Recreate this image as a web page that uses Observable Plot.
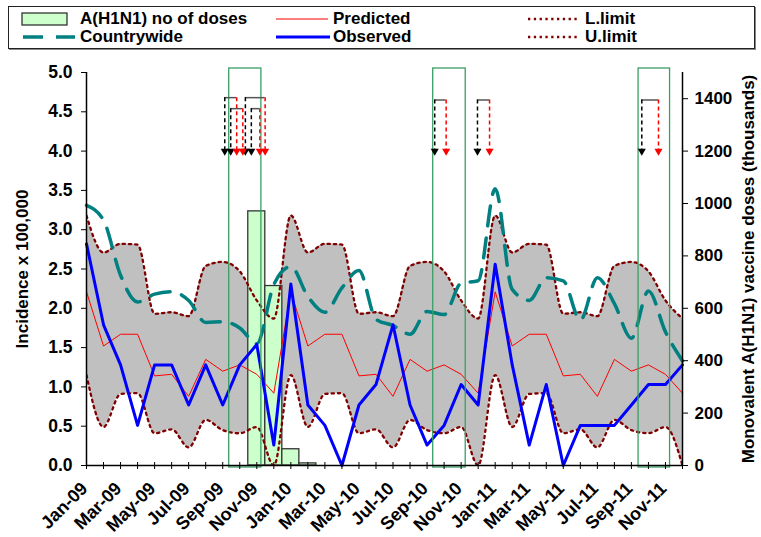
<!DOCTYPE html>
<html><head><meta charset="utf-8">
<script src="https://cdn.jsdelivr.net/npm/d3@7"></script>
<script src="https://cdn.jsdelivr.net/npm/@observablehq/plot@0.6"></script>
<style>
body{margin:0;background:#fff;font-family:"Liberation Sans",Arial,sans-serif;}
#wrap{position:relative;width:761px;height:537px;}
#legend{position:absolute;left:8px;top:6px;width:745px;height:41px;border:1px solid #222;box-shadow:1px 1px 0 #888;background:#fff;font-weight:bold;font-size:17px;color:#000;z-index:2}
.item{position:absolute;height:16px;line-height:16px;white-space:nowrap}
.item svg{position:absolute;top:-1px}
.item span{position:absolute;top:0}
</style></head><body><div id="wrap"><div id="legend"></div></div>
<script>
// ---------- data ----------
const months = ["Jan-09","Feb-09","Mar-09","Apr-09","May-09","Jun-09","Jul-09","Aug-09","Sep-09","Oct-09","Nov-09","Dec-09",
                "Jan-10","Feb-10","Mar-10","Apr-10","May-10","Jun-10","Jul-10","Aug-10","Sep-10","Oct-10","Nov-10","Dec-10",
                "Jan-11","Feb-11","Mar-11","Apr-11","May-11","Jun-11","Jul-11","Aug-11","Sep-11","Oct-11","Nov-11","Dec-11"];
const observed = [2.82,1.79,1.28,0.51,1.28,1.28,0.77,1.28,0.77,1.28,1.54,0.26,
                  2.31,0.77,0.51,0.00,0.77,1.03,1.79,0.77,0.26,0.51,1.03,0.77,
                  2.56,1.28,0.26,1.03,0.00,0.51,0.51,0.51,0.77,1.03,1.03,1.28];
const predicted = [2.21,1.52,1.67,1.67,1.14,1.16,0.88,1.35,1.20,1.28,1.16,0.92,
                   2.21,1.52,1.67,1.67,1.14,1.16,0.88,1.35,1.20,1.28,1.16,0.92,
                   2.21,1.52,1.67,1.67,1.14,1.16,0.88,1.35,1.20,1.28,1.16,0.92];
const uLimit = [3.18,2.71,2.82,2.81,1.93,1.95,1.90,2.54,2.59,2.47,2.10,1.87,
                3.18,2.71,2.82,2.81,1.93,1.95,1.90,2.54,2.59,2.47,2.10,1.87,
                3.18,2.71,2.82,2.81,1.93,1.95,1.90,2.54,2.59,2.47,2.10,1.87];
const lLimit = [1.15,0.49,0.91,0.92,0.41,0.46,0.23,0.58,0.45,0.41,0.49,0.00,
                1.15,0.49,0.91,0.92,0.41,0.46,0.23,0.58,0.45,0.41,0.49,0.00,
                1.15,0.49,0.91,0.92,0.41,0.46,0.23,0.58,0.45,0.41,0.49,0.00];
const countrywide = [3.31,3.12,2.42,2.08,2.18,2.21,2.10,1.82,1.83,1.75,1.55,2.30,
                     2.53,2.15,1.95,2.26,2.48,1.86,1.78,1.67,1.96,1.92,2.32,2.35,
                     3.52,2.24,2.10,2.39,2.35,1.85,2.39,2.06,1.62,2.22,1.70,1.33];
const doseMonths = ["Nov-09","Dec-09","Jan-10","Feb-10"];
const doses = [970, 685, 62, 8]; // thousands
const leftMax = 5, rightMax = 1500;
const leftTicks = [0,0.5,1,1.5,2,2.5,3,3.5,4,4.5,5];
const rightTicks = [0,200,400,600,800,1000,1200,1400];
// surveillance windows (month index positions)
const windowStart = [8.38, 20.36, 32.42];
const windowEnd   = [10.27, 22.27, 34.27];
// alarm arrows: start (black) / end (red) month positions and bracket heights
const arrowStart = [8.12, 8.47, 9.33, 9.68, 20.45, 22.96, 32.61];
const arrowEnd   = [8.82, 9.18, 10.49, 10.18, 21.12, 23.67, 33.59];
const arrowTop   = [4.68, 4.54, 4.68, 4.54, 4.65, 4.65, 4.65];
const arrowTip = 4.0;

// ---------- build ----------
const idx = d3.range(months.length);
const rows = idx.map(i => ({i, obs: observed[i], pred: predicted[i], cw: countrywide[i], lo: lLimit[i], up: uLimit[i]}));
const k = leftMax / rightMax;
const bars = doseMonths.map((m, j) => { const p = months.indexOf(m); return {x1: p - 0.5, x2: p + 0.5, y: doses[j] * k}; });
const windows = windowStart.map((s, j) => ({s, e: windowEnd[j]}));
const arrows = arrowStart.map((s, j) => ({s, e: arrowEnd[j], top: arrowTop[j]}));

const font = "Liberation Sans, Arial, sans-serif";
const smooth = "monotone-x";
const plot = Plot.plot({
  width: 761, height: 537,
  marginLeft: 86, marginRight: 79, marginTop: 72, marginBottom: 72,
  x: {type: "linear", domain: [0, months.length - 1]},
  y: {domain: [0, leftMax]},
  style: {fontFamily: font, fontWeight: "bold", fontSize: "17px", color: "#000", background: "#fff", overflow: "visible"},
  marks: [
    Plot.areaY(rows, {x: "i", y1: "lo", y2: "up", curve: smooth, fill: "#c0c0c0", clip: true}),
    Plot.rect(bars, {x1: "x1", x2: "x2", y1: () => 0, y2: "y", fill: "#ccffcc", stroke: "#333", strokeWidth: 1.3}),
    Plot.lineY(rows, {x: "i", y: "lo", curve: smooth, stroke: "#800000", strokeWidth: 2.3, strokeDasharray: "2.3,4", clip: true}),
    Plot.lineY(rows, {x: "i", y: "up", curve: smooth, stroke: "#800000", strokeWidth: 2.3, strokeDasharray: "2.3,4", clip: true}),
    Plot.lineY(rows, {x: "i", y: "pred", stroke: "#ff0000", strokeWidth: 1}),
    Plot.lineY(rows, {x: "i", y: "cw", curve: smooth, stroke: "#008080", strokeWidth: 3.5, strokeDasharray: "20,12"}),
    Plot.lineY(rows, {x: "i", y: "obs", stroke: "#0000ff", strokeWidth: 3}),
    Plot.rect(windows, {x1: "s", x2: "e", y1: () => 0, y2: () => leftMax, insetTop: -4, insetBottom: -2, fill: "none", stroke: "#3a9e66", strokeWidth: 1.3}),
    Plot.ruleY(arrows, {y: "top", x1: "s", x2: "e", stroke: "#555", strokeWidth: 1.5}),
    Plot.ruleX(arrows, {x: "s", y1: "top", y2: () => arrowTip, stroke: "#000", strokeWidth: 1.5, strokeDasharray: "4,3"}),
    Plot.ruleX(arrows, {x: "e", y1: "top", y2: () => arrowTip, stroke: "#ff0000", strokeWidth: 1.5, strokeDasharray: "4,3"}),
    Plot.dot(arrows, {x: "s", y: () => arrowTip, symbol: "triangle", rotate: 180, r: 3, fill: "#000"}),
    Plot.dot(arrows, {x: "e", y: () => arrowTip, symbol: "triangle", rotate: 180, r: 3, fill: "#ff0000"}),
    // axes
    Plot.ruleX([0, months.length - 1], {stroke: "#000", strokeWidth: 1.5}),
    Plot.ruleY([0], {stroke: "#000", strokeWidth: 1.5}),
    Plot.axisY(leftTicks, {anchor: "left", tickSize: 5, tickPadding: 9, tickFormat: d3.format(".1f"), label: null, fontSize: 17.5}),
    Plot.axisY(rightTicks.map(v => v * k), {anchor: "right", tickSize: 5, tickPadding: 7, tickFormat: d => String(Math.round(d / k)), label: null}),
    Plot.axisX(idx, {anchor: "bottom", tickSize: 7, dy: -3, tickFormat: () => "", label: null}),
    Plot.axisX(idx.filter(i => i % 2 === 0), {anchor: "bottom", tickSize: 0, tickPadding: 20, dx: -2, tickRotate: -45, tickFormat: i => months[i], label: null, fontSize: 18}),
    Plot.text(["Incidence x 100,000"], {frameAnchor: "left", textAnchor: "middle", rotate: -90, dx: -64, fontSize: 17, fontWeight: "bold"}),
    Plot.text(["Monovalent A(H1N1) vaccine doses (thousands)"], {frameAnchor: "right", textAnchor: "middle", rotate: -90, dx: 66, fontSize: 17, fontWeight: "bold"})
  ]
});
document.getElementById("wrap").appendChild(plot);

// ---------- legend ----------
const legendItems = [
  {label: "A(H1N1) no of doses", x: 12, y: 4, sw: `<rect x="1" y="3" width="45" height="12" fill="#ccffcc" stroke="#333" stroke-width="1.3"/>`},
  {label: "Predicted", x: 267, y: 4, sw: `<line x1="0" y1="9" x2="52" y2="9" stroke="#ff0000" stroke-width="1.2"/>`},
  {label: "L.limit", x: 519, y: 4, sw: `<line x1="0" y1="9" x2="50" y2="9" stroke="#800000" stroke-width="2.3" stroke-dasharray="2.3,3.5"/>`},
  {label: "Countrywide", x: 12, y: 22, sw: `<line x1="2" y1="9" x2="54" y2="9" stroke="#008080" stroke-width="3.5" stroke-dasharray="20,13"/>`},
  {label: "Observed", x: 267, y: 22, sw: `<line x1="0" y1="9" x2="54" y2="9" stroke="#0000ff" stroke-width="3"/>`},
  {label: "U.limit", x: 519, y: 22, sw: `<line x1="0" y1="9" x2="50" y2="9" stroke="#800000" stroke-width="2.3" stroke-dasharray="2.3,3.5"/>`}
];
const lg = document.getElementById("legend");
legendItems.forEach(it => {
  const d = document.createElement("div");
  d.className = "item";
  d.style.left = it.x + "px"; d.style.top = it.y + "px";
  d.innerHTML = `<svg width="56" height="18" style="left:0">${it.sw}</svg><span style="left:${it.label === "A(H1N1) no of doses" || it.label === "Countrywide" ? 59 : 57}px">${it.label}</span>`;
  lg.appendChild(d);
});
</script>
</body></html>
